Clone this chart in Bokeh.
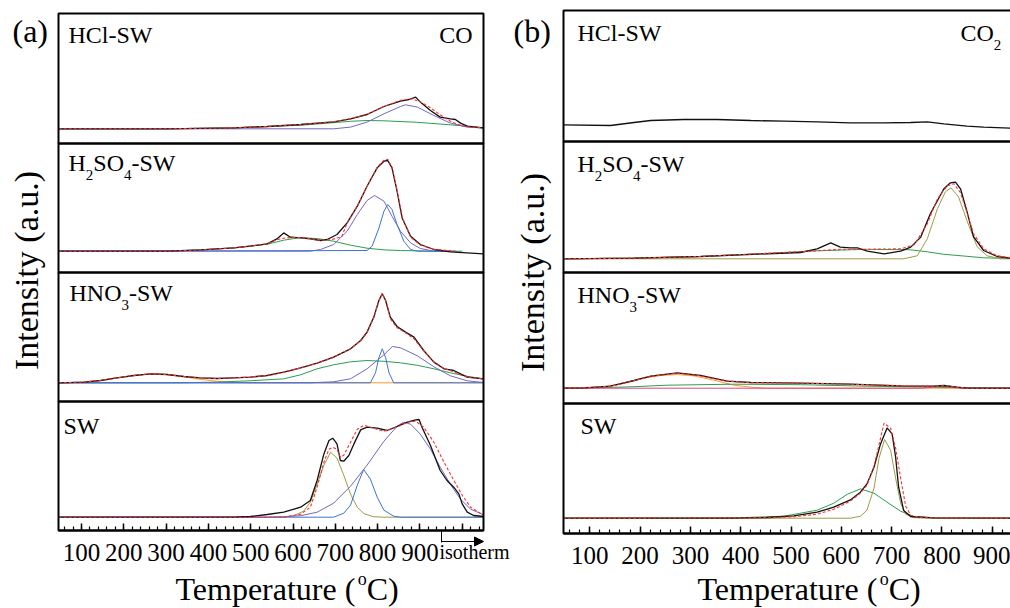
import math
from bokeh.plotting import figure
from bokeh.models import Range1d, FixedTicker, Label, Arrow, NormalHead, BoxAnnotation
from bokeh.layouts import row
from bokeh.embed import file_html
from bokeh.resources import INLINE

# ======================= DATA (a) CO =======================
# --- HCl-SW ---
co_hcl_exp_T = [46, 300, 460, 539, 618, 696, 736, 775, 815, 854, 874, 890, 901, 925, 948, 972, 984, 996, 1012, 1050]
co_hcl_exp_I = [0, 0, 1, 2.3, 4.3, 7, 10, 14.3, 22.3, 27.7, 29.3, 31.7, 26.7, 18.3, 11.7, 10, 9.3, 5.7, 2.7, 1]
co_hcl_fit_T = [46, 300, 460, 539, 618, 696, 736, 775, 815, 854, 880, 901, 925, 948, 972, 996, 1012, 1050]
co_hcl_fit_I = [0, 0, 1, 2.3, 4.3, 7, 10, 14.5, 22.5, 28.5, 30, 27, 21, 14, 7.5, 3.5, 2, 1]
co_hcl_purple_T = [46, 696, 736, 775, 815, 854, 866, 894, 933, 972, 1012, 1050]
co_hcl_purple_I = [0, 0, 1.7, 6.7, 15, 22.3, 24, 21.7, 13.3, 5.7, 1.7, 0.7]
co_hcl_green_T = [46, 302, 460, 618, 736, 775, 815, 894, 972, 1050]
co_hcl_green_I = [0, 0, 1, 3.5, 7.5, 8.3, 8, 6.5, 4, 1]

# --- H2SO4-SW ---
co_h2so4_exp_T = [46, 302, 381, 460, 499, 539, 562, 578, 594, 618, 641, 665, 681, 704, 728, 752, 775, 799, 815, 824, 834, 846, 858, 878, 901, 933, 972, 1050]
co_h2so4_exp_I = [0, 0, 1.3, 3.3, 5, 7.3, 12.3, 18.3, 14, 13.3, 12.3, 10.7, 11.7, 16.7, 28.3, 45, 65, 83.3, 90, 90.7, 83.3, 60, 33.3, 15, 6.7, 1.7, -0.7, -2.7]
co_h2so4_fit_T = [46, 302, 381, 460, 539, 562, 578, 600, 618, 641, 665, 690, 715, 728, 752, 775, 799, 815, 824, 834, 846, 858, 878, 901, 933, 984]
co_h2so4_fit_I = [0, 0, 1.3, 3.3, 7.3, 11.5, 13, 13.8, 13.6, 12.5, 11, 11.5, 14.5, 28, 45, 65, 84, 91, 92, 84, 61, 34, 14, 6, 2, 0]
co_h2so4_green_T = [46, 302, 381, 460, 539, 578, 618, 660, 696, 736, 775, 815, 854, 933, 1000]
co_h2so4_green_I = [0, 0, 1.3, 3.3, 7, 11, 13.7, 12.5, 10, 6, 3, 1.3, 0.7, 0, 0]
co_h2so4_purple_T = [46, 641, 665, 696, 728, 752, 775, 793, 815, 834, 854, 878, 901, 933, 972]
co_h2so4_purple_I = [0, 0, 1.7, 6.7, 20, 36.7, 50.7, 55.7, 50, 35, 20, 8.3, 2.7, 0, 0]
co_h2so4_blue_T = [46, 775, 787, 803, 815, 824, 834, 846, 862, 878, 894, 984]
co_h2so4_blue_I = [0, 0.7, 5, 23, 40, 46.7, 41.7, 26.7, 10, 1.7, 0, 0]

# --- HNO3-SW ---
co_hno3_exp_T = [46, 105, 145, 184, 224, 263, 302, 342, 381, 421, 460, 499, 539, 578, 618, 657, 696, 736, 760, 775, 791, 803, 811, 819, 830, 846, 866, 886, 909, 933, 957, 980, 996, 1012, 1050]
co_hno3_exp_I = [0, 0.7, 2.3, 5, 7.3, 9, 8.3, 6.3, 5, 4.3, 5, 5.7, 7.3, 10.7, 15, 19.7, 25.7, 34, 42.3, 50.7, 65.7, 82.3, 89, 82.3, 65.7, 56.3, 50.7, 45.7, 32.3, 20.7, 14, 12.3, 9, 5.7, 4]
co_hno3_fit_T = co_hno3_exp_T
co_hno3_fit_I = [0, 0.7, 2.3, 5, 7.3, 9, 8.3, 6.3, 5, 4.3, 5, 5.7, 7.3, 10.5, 14.8, 19.5, 25.5, 34, 42, 50, 65, 82, 89.5, 82, 64, 55, 50, 44, 32, 21, 14.5, 11, 8, 5.5, 4]
co_hno3_orange_T = [46, 105, 145, 184, 224, 263, 280, 302, 342, 381, 421, 460, 499, 1050]
co_hno3_orange_I = [0, 0.5, 2.3, 5, 7.3, 8.8, 9, 8.3, 6, 3.5, 1.5, 0.5, 0, 0]
co_hno3_green_T = [46, 326, 421, 499, 578, 618, 657, 696, 736, 775, 815, 854, 894, 933, 972, 1012, 1050]
co_hno3_green_I = [0, 0, 0.7, 2, 4, 8, 14, 18, 21, 22.3, 21.5, 20, 17.5, 14, 10, 6.5, 4]
co_hno3_purple_T = [46, 641, 696, 736, 775, 815, 835, 854, 894, 933, 972, 1012, 1050]
co_hno3_purple_I = [0, 0, 1, 4, 14, 28, 36.3, 35, 27, 16, 7, 2, 0.3]
co_hno3_blue_T = [46, 783, 795, 803, 811, 819, 827, 838, 1050]
co_hno3_blue_I = [0, 0, 10, 25, 34, 25, 10, 0, 0]

# --- SW ---
co_sw_exp_T = [46, 460, 499, 539, 578, 618, 641, 657, 673, 685, 694, 704, 712, 720, 732, 744, 760, 775, 799, 822, 846, 870, 890, 898, 905, 925, 948, 964, 980, 992, 1000, 1012, 1027, 1050]
co_sw_exp_I = [0, 0, 0.7, 2.7, 5, 10, 16.7, 36.7, 63.3, 76.7, 79, 73.3, 56.7, 56, 61.7, 73.3, 87.3, 90, 89, 86.7, 90.7, 95, 97.3, 97.7, 90, 71.7, 46.7, 36.7, 30, 23.3, 13.3, 5, 1.7, 0.7]
co_sw_fit_T = [46, 578, 618, 641, 657, 673, 685, 694, 704, 712, 720, 736, 752, 768, 790, 815, 846, 870, 890, 909, 933, 957, 980, 1000, 1020, 1050]
co_sw_fit_I = [0, 0, 3, 10, 30, 55, 68, 70, 68, 60, 62, 75, 88, 92, 89, 86, 90, 95, 96, 90, 75, 55, 37, 22, 10, 2]
co_sw_olive_T = [46, 580, 602, 625, 641, 657, 673, 689, 704, 720, 736, 752, 768, 790, 815, 1050]
co_sw_olive_I = [0, 0, 1.5, 6, 15, 33, 52, 65, 59, 42, 23, 10, 3.5, 0.5, 0, 0]
co_sw_blue_T = [46, 696, 720, 736, 752, 767, 783, 799, 815, 838, 854, 1050]
co_sw_blue_I = [0, 0, 4, 12, 32, 47.7, 38, 20, 7, 1, 0, 0]
co_sw_purple_T = [46, 540, 578, 618, 657, 696, 736, 775, 815, 846, 862, 878, 901, 925, 948, 972, 996, 1020, 1050]
co_sw_purple_I = [0, 0, 0.5, 1.5, 5, 14, 31, 52, 76, 91, 95, 93, 83, 68, 50, 33, 18, 8, 2.5]

# ======================= DATA (b) CO2 =======================
co2_hcl_exp_T = [47, 141, 188, 221, 287, 353, 420, 486, 552, 618, 685, 738, 771, 804, 850, 883, 936]
co2_hcl_exp_I = [16.7, 16, 19, 21, 22, 22, 21, 20.3, 19.7, 18.7, 18.7, 19, 19.7, 17.7, 15.3, 14.3, 13.3]

co2_h2so4_exp_T = [47, 188, 320, 453, 519, 552, 579, 598, 618, 632, 652, 685, 718, 738, 758, 777, 791, 804, 817, 827, 837, 850, 863, 883, 910, 936]
co2_h2so4_exp_I = [0, 0.7, 2.3, 5, 6.3, 10, 16, 11.7, 11, 11, 7.7, 5, 7.7, 11.7, 21.7, 45, 58, 70, 76, 76.7, 70, 47, 22, 8.3, 2.3, 0.7]
co2_h2so4_fit_T = [47, 188, 320, 453, 552, 598, 652, 718, 745, 771, 791, 811, 824, 837, 850, 863, 883, 910, 936]
co2_h2so4_fit_I = [0, 0.7, 2.3, 5.5, 8, 9.5, 9.5, 10, 14, 35, 60, 73, 75, 66, 46, 25, 10, 3, 1]
co2_h2so4_green_T = [47, 188, 320, 453, 552, 652, 738, 771, 804, 850, 883, 936]
co2_h2so4_green_I = [0, 0.7, 2.3, 5.5, 8, 9.5, 9, 7, 4.5, 2.5, 1, 0.3]
co2_h2so4_olive_T = [47, 724, 751, 771, 791, 807, 818, 833, 850, 870, 890, 916, 936]
co2_h2so4_olive_I = [0, 0, 3, 20, 50, 67, 71, 62, 38, 12, 3, 0, 0]

co2_hno3_exp_T = [47, 88, 141, 188, 221, 274, 320, 373, 420, 519, 618, 718, 784, 804, 830, 850, 936]
co2_hno3_exp_I = [0, 0.3, 2, 7.7, 12, 15.3, 12.7, 7, 5.7, 5, 4, 2.3, 2, 2.7, 1, 0, 0]
co2_hno3_fit_T = co2_hno3_exp_T
co2_hno3_fit_I = [0, 0.3, 2, 7.5, 11.8, 15, 12.5, 7.2, 5.5, 5, 4, 2.5, 2, 2.5, 1, 0, 0]
co2_hno3_orange_T = [47, 121, 161, 201, 241, 274, 307, 347, 386, 426, 453, 936]
co2_hno3_orange_I = [0, 0.7, 4, 9.5, 12.7, 13.7, 12.3, 8, 3, 0.7, 0, 0]
co2_hno3_green_T = [47, 88, 188, 254, 386, 519, 652, 784, 850, 936]
co2_hno3_green_I = [0, 0, 1.5, 3, 4, 3.5, 2, 1, 0.3, 0]
co2_hno3_pink_T = [47, 760, 784, 800, 817, 840, 936]
co2_hno3_pink_I = [0, 0, 1.2, 2, 1.2, 0, 0]

co2_sw_exp_T = [47, 386, 453, 506, 552, 585, 618, 638, 651, 665, 678, 691, 701, 708, 714, 724, 738, 784, 936]
co2_sw_exp_I = [0, 0, 0.7, 2.3, 6, 11, 18.3, 26, 34.3, 51, 74.3, 90.3, 84.3, 61, 31, 7.7, 1.7, 0.3, 0]
co2_sw_fit_T = [47, 453, 506, 552, 585, 618, 638, 651, 665, 678, 685, 698, 708, 718, 728, 738, 760, 936]
co2_sw_fit_I = [0, 0.3, 1.5, 4, 9, 17, 25, 33, 52, 80, 95, 90, 70, 40, 12, 3, 0.5, 0]
co2_sw_green_T = [47, 386, 486, 552, 585, 612, 638, 665, 691, 718, 744, 784, 936]
co2_sw_green_I = [0, 0.3, 2, 8, 15, 24, 29.3, 25, 16, 7, 1.7, 0.3, 0]
co2_sw_olive_T = [47, 618, 638, 651, 665, 675, 686, 698, 708, 718, 728, 744, 784, 936]
co2_sw_olive_I = [0, 0, 2, 8, 30, 60, 78.7, 68, 40, 15, 4, 0.5, 0, 0]

tick_values = [100, 200, 300, 400, 500, 600, 700, 800, 900]
tick_labels = ["100", "200", "300", "400", "500", "600", "700", "800", "900"]

# ======================= STYLE / LAYOUT =======================
FONT = "Liberation Serif"
COLORS = {"exp": "#111111", "fit": "#ff3030", "green": "#2e9e4f", "purple": "#7467c4",
          "blue": "#3b73d6", "olive": "#9c9c45", "orange": "#ff9933", "pink": "#e0457b"}
ADV = {'H': .722, 'C': .667, 'l': .278, '-': .333, 'S': .556, 'W': .944, 'O': .722, 'N': .722,
       '2': .5, '3': .5, '4': .5, 'o': .5, '(': .333, ')': .333, ' ': .25, 'T': .611, 'e': .444,
       'm': .778, 'p': .5, 'r': .333, 'a': .444, 't': .278, 'u': .5}
H = 608
BL = 0.33  # baseline correction (fraction of font size)


def tw(s, size):
    return sum(ADV.get(c, .5) for c in s) * size


def build_panel(page_x0, width, t100_px, ppd, box_x, box_y, curves, baselines, minor):
    def cx(px):
        return 100 + (px - t100_px) / ppd

    def cy(py):
        return H - py

    p = figure(width=width, height=H, x_range=Range1d(cx(page_x0), cx(page_x0 + width)),
               y_range=Range1d(0, H), output_backend="svg", toolbar_location=None, min_border=0)
    p.grid.visible = False
    p.outline_line_color = None
    p.background_fill_color = "white"
    p.border_fill_color = "white"
    p.yaxis.visible = False

    for k, clist in enumerate(curves):
        base = cy(baselines[k])
        for name, T, I in clist:
            y = [base + v for v in I]
            if name == "fit":
                p.line(T, y, line_color=COLORS["fit"], line_width=1.1, line_dash="3 2")
            elif name == "exp":
                p.line(T, y, line_color=COLORS["exp"], line_width=1.3)
            else:
                p.line(T, y, line_color=COLORS[name], line_width=1.0)

    for i in range(4):
        p.add_layout(BoxAnnotation(left=cx(box_x[0]), right=cx(box_x[1]), top=cy(box_y[i]),
                                   bottom=cy(box_y[i + 1]), fill_alpha=0, line_color="black",
                                   line_width=2, line_alpha=1))

    ax = p.xaxis[0]
    ax.fixed_location = cy(box_y[4])
    ax.bounds = (cx(box_x[0]), min(cx(box_x[1]), cx(page_x0 + width)))
    ax.ticker = FixedTicker(ticks=tick_values + ([1000] if minor[-1] > 1000 else []), minor_ticks=minor)
    ov = {v: l for v, l in zip(tick_values, tick_labels)}
    ov[1000] = ""
    ax.major_label_overrides = ov
    ax.axis_line_width = 2
    ax.major_tick_in = 7
    ax.major_tick_out = 0
    ax.minor_tick_in = 4
    ax.minor_tick_out = 0
    ax.major_tick_line_width = 1.5
    ax.minor_tick_line_width = 1.2
    ax.major_label_text_font = FONT
    ax.major_label_text_font_size = "25px"
    ax.major_label_text_color = "black"
    ax.major_label_standoff = 13
    return p, cx, cy


def rich(p, cx, cy, x_px, y_px, parts, size):
    x = x_px
    for text, kind in parts:
        if kind == "n":
            fs, dy = size, 0
        elif kind == "sub":
            fs, dy = round(size * 0.62), 9
        else:
            fs, dy = round(size * 0.56), -15
        p.add_layout(Label(x=cx(x), y=cy(y_px + dy - BL * fs), text=text, text_font=FONT,
                           text_font_size=f"{fs}px", text_baseline="alphabetic",
                           text_align="left", text_color="black"))
        x += tw(text, fs)


def vlabel(p, cx, cy, x_px, y_px, text, size):
    p.add_layout(Label(x=cx(x_px - BL * size), y=cy(y_px), text=text, text_font=FONT,
                       text_font_size=f"{size}px", angle=math.pi / 2, text_align="center",
                       text_baseline="alphabetic", text_color="black"))


# ---------------- panel (a) CO ----------------
a_curves = [
    [("olive", co_sw_olive_T, co_sw_olive_I), ("blue", co_sw_blue_T, co_sw_blue_I),
     ("purple", co_sw_purple_T, co_sw_purple_I),
     ("exp", co_sw_exp_T, co_sw_exp_I), ("fit", co_sw_fit_T, co_sw_fit_I)],
    [("orange", co_hno3_orange_T, co_hno3_orange_I), ("green", co_hno3_green_T, co_hno3_green_I),
     ("purple", co_hno3_purple_T, co_hno3_purple_I), ("blue", co_hno3_blue_T, co_hno3_blue_I),
     ("exp", co_hno3_exp_T, co_hno3_exp_I), ("fit", co_hno3_fit_T, co_hno3_fit_I)],
    [("green", co_h2so4_green_T, co_h2so4_green_I), ("purple", co_h2so4_purple_T, co_h2so4_purple_I),
     ("blue", co_h2so4_blue_T, co_h2so4_blue_I),
     ("exp", co_h2so4_exp_T, co_h2so4_exp_I), ("fit", co_h2so4_fit_T, co_h2so4_fit_I)],
    [("green", co_hcl_green_T, co_hcl_green_I), ("purple", co_hcl_purple_T, co_hcl_purple_I),
     ("exp", co_hcl_exp_T, co_hcl_exp_I), ("fit", co_hcl_fit_T, co_hcl_fit_I)],
]
a_baselines = [516.7, 382.3, 250.7, 128.3]
a_box_y = [13, 143, 272, 401, 530]
pa, ax_, ay_ = build_panel(0, 510, 81.0, 0.42301, (58, 483), a_box_y, a_curves, a_baselines,
                           list(range(60, 1050, 20)))

rich(pa, ax_, ay_, 12, 41, [("(a)", "n")], 32)
rich(pa, ax_, ay_, 68, 42, [("HCl-SW", "n")], 24)
rich(pa, ax_, ay_, 472 - tw("CO", 24), 42, [("CO", "n")], 24)
rich(pa, ax_, ay_, 68, 170, [("H", "n"), ("2", "sub"), ("SO", "n"), ("4", "sub"), ("-SW", "n")], 24)
rich(pa, ax_, ay_, 69, 300.5, [("HNO", "n"), ("3", "sub"), ("-SW", "n")], 24)
rich(pa, ax_, ay_, 63, 433, [("SW", "n")], 24)
rich(pa, ax_, ay_, 175, 599, [("Temperature (", "n"), ("o", "sup"), ("C)", "n")], 32)
vlabel(pa, ax_, ay_, 37, 270, "Intensity (a.u.)", 34)
rich(pa, ax_, ay_, 439, 558, [("isotherm", "n")], 20)
pa.add_layout(Arrow(x_start=ax_(441), y_start=ay_(530), x_end=ax_(441), y_end=ay_(542), end=None,
                    line_color="black", line_width=1))
pa.add_layout(Arrow(x_start=ax_(441), y_start=ay_(541), x_end=ax_(483), y_end=ay_(541),
                    end=NormalHead(size=9, fill_color="black", line_color="black"),
                    line_color="black", line_width=1))

# ---------------- panel (b) CO2 ----------------
b_curves = [
    [("green", co2_sw_green_T, co2_sw_green_I), ("olive", co2_sw_olive_T, co2_sw_olive_I),
     ("exp", co2_sw_exp_T, co2_sw_exp_I), ("fit", co2_sw_fit_T, co2_sw_fit_I)],
    [("orange", co2_hno3_orange_T, co2_hno3_orange_I), ("green", co2_hno3_green_T, co2_hno3_green_I),
     ("pink", co2_hno3_pink_T, co2_hno3_pink_I),
     ("exp", co2_hno3_exp_T, co2_hno3_exp_I), ("fit", co2_hno3_fit_T, co2_hno3_fit_I)],
    [("green", co2_h2so4_green_T, co2_h2so4_green_I), ("olive", co2_h2so4_olive_T, co2_h2so4_olive_I),
     ("exp", co2_h2so4_exp_T, co2_h2so4_exp_I), ("fit", co2_h2so4_fit_T, co2_h2so4_fit_I)],
    [("exp", co2_hcl_exp_T, co2_hcl_exp_I)],
]
b_baselines = [517.7, 387.7, 258.3, 141.0]
b_box_y = [10, 141, 272, 403, 533]
pb, bx_, by_ = build_panel(510, 500, 589.3, 0.503, (563, 1013), b_box_y, b_curves, b_baselines,
                           list(range(60, 940, 20)))

rich(pb, bx_, by_, 513, 41, [("(b)", "n")], 32)
rich(pb, bx_, by_, 577, 40, [("HCl-SW", "n")], 24)
rich(pb, bx_, by_, 960, 40, [("CO", "n"), ("2", "sub")], 24)
rich(pb, bx_, by_, 577, 171.5, [("H", "n"), ("2", "sub"), ("SO", "n"), ("4", "sub"), ("-SW", "n")], 24)
rich(pb, bx_, by_, 577, 302.5, [("HNO", "n"), ("3", "sub"), ("-SW", "n")], 24)
rich(pb, bx_, by_, 580, 433, [("SW", "n")], 24)
rich(pb, bx_, by_, 697, 599, [("Temperature (", "n"), ("o", "sup"), ("C)", "n")], 32)
vlabel(pb, bx_, by_, 543, 272, "Intensity (a.u.)", 34)

layout = row(pa, pb)
open("out.html", "w").write(file_html(layout, INLINE))
